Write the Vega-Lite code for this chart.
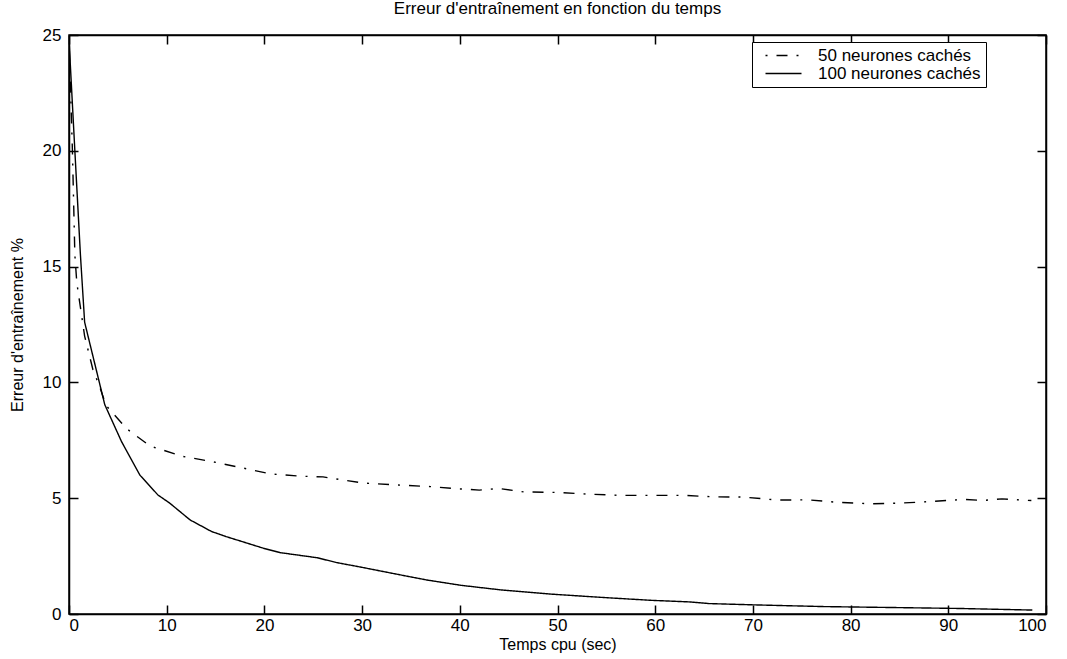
{
  "$schema": "https://vega.github.io/schema/vega-lite/v6.json",
  "width": 977,
  "height": 579,
  "autosize": {"type": "none"},
  "padding": {"left": 69, "top": 35, "right": 21, "bottom": 45},
  "background": "white",
  "title": {"text": "Erreur d'entraînement en fonction du temps", "font": "Liberation Sans", "fontSize": 17, "fontWeight": "normal", "color": "black", "anchor": "middle", "offset": 8},
  "config": {
    "view": {"stroke": "black", "strokeWidth": 1.5},
    "axis": {"domainColor": "black", "domainWidth": 1.5, "tickColor": "black", "tickWidth": 1.5, "grid": false, "labelFont": "Liberation Sans", "labelFontSize": 17, "labelColor": "black", "titleFont": "Liberation Sans", "titleFontSize": 16, "titleFontWeight": "normal", "titleColor": "black"}
  },
  "data": {"values": [
    {"series": "50 neurones cachés", "t": 0, "err": 24.8},
    {"series": "50 neurones cachés", "t": 0.35, "err": 20.0},
    {"series": "50 neurones cachés", "t": 0.6, "err": 15.5},
    {"series": "50 neurones cachés", "t": 0.8, "err": 14.3},
    {"series": "50 neurones cachés", "t": 1.6, "err": 12.0},
    {"series": "50 neurones cachés", "t": 2.45, "err": 10.55},
    {"series": "50 neurones cachés", "t": 3.15, "err": 9.8},
    {"series": "50 neurones cachés", "t": 3.8, "err": 9.0},
    {"series": "50 neurones cachés", "t": 5.9, "err": 8.0},
    {"series": "50 neurones cachés", "t": 8.3, "err": 7.25},
    {"series": "50 neurones cachés", "t": 11.7, "err": 6.8},
    {"series": "50 neurones cachés", "t": 14.4, "err": 6.6},
    {"series": "50 neurones cachés", "t": 17.5, "err": 6.33},
    {"series": "50 neurones cachés", "t": 20.6, "err": 6.05},
    {"series": "50 neurones cachés", "t": 23.7, "err": 5.95},
    {"series": "50 neurones cachés", "t": 26.0, "err": 5.92},
    {"series": "50 neurones cachés", "t": 27.8, "err": 5.8},
    {"series": "50 neurones cachés", "t": 30.2, "err": 5.65},
    {"series": "50 neurones cachés", "t": 33.6, "err": 5.57},
    {"series": "50 neurones cachés", "t": 37.0, "err": 5.5},
    {"series": "50 neurones cachés", "t": 40.1, "err": 5.4},
    {"series": "50 neurones cachés", "t": 42.0, "err": 5.35},
    {"series": "50 neurones cachés", "t": 44.0, "err": 5.42},
    {"series": "50 neurones cachés", "t": 46.6, "err": 5.27},
    {"series": "50 neurones cachés", "t": 50.0, "err": 5.25},
    {"series": "50 neurones cachés", "t": 53.0, "err": 5.18},
    {"series": "50 neurones cachés", "t": 56.5, "err": 5.12},
    {"series": "50 neurones cachés", "t": 60.0, "err": 5.12},
    {"series": "50 neurones cachés", "t": 63.0, "err": 5.12},
    {"series": "50 neurones cachés", "t": 66.0, "err": 5.06},
    {"series": "50 neurones cachés", "t": 69.0, "err": 5.05},
    {"series": "50 neurones cachés", "t": 72.5, "err": 4.92},
    {"series": "50 neurones cachés", "t": 75.6, "err": 4.93},
    {"series": "50 neurones cachés", "t": 78.7, "err": 4.82},
    {"series": "50 neurones cachés", "t": 82.1, "err": 4.76},
    {"series": "50 neurones cachés", "t": 85.2, "err": 4.79},
    {"series": "50 neurones cachés", "t": 88.3, "err": 4.86},
    {"series": "50 neurones cachés", "t": 91.7, "err": 4.95},
    {"series": "50 neurones cachés", "t": 93.5, "err": 4.9},
    {"series": "50 neurones cachés", "t": 95.5, "err": 4.97},
    {"series": "50 neurones cachés", "t": 98.5, "err": 4.9},
    {"series": "100 neurones cachés", "t": 0, "err": 24.8},
    {"series": "100 neurones cachés", "t": 0.6, "err": 20.0},
    {"series": "100 neurones cachés", "t": 1.17, "err": 15.5},
    {"series": "100 neurones cachés", "t": 1.6, "err": 12.6},
    {"series": "100 neurones cachés", "t": 3.66, "err": 9.04},
    {"series": "100 neurones cachés", "t": 5.37, "err": 7.45},
    {"series": "100 neurones cachés", "t": 7.25, "err": 6.0},
    {"series": "100 neurones cachés", "t": 9.1, "err": 5.14},
    {"series": "100 neurones cachés", "t": 10.3, "err": 4.79},
    {"series": "100 neurones cachés", "t": 12.4, "err": 4.06},
    {"series": "100 neurones cachés", "t": 14.6, "err": 3.56},
    {"series": "100 neurones cachés", "t": 16.1, "err": 3.34},
    {"series": "100 neurones cachés", "t": 19.9, "err": 2.84},
    {"series": "100 neurones cachés", "t": 21.6, "err": 2.65},
    {"series": "100 neurones cachés", "t": 25.4, "err": 2.43},
    {"series": "100 neurones cachés", "t": 27.4, "err": 2.22},
    {"series": "100 neurones cachés", "t": 29.8, "err": 2.03},
    {"series": "100 neurones cachés", "t": 33.9, "err": 1.69},
    {"series": "100 neurones cachés", "t": 36.6, "err": 1.47},
    {"series": "100 neurones cachés", "t": 40.1, "err": 1.24},
    {"series": "100 neurones cachés", "t": 44.2, "err": 1.04},
    {"series": "100 neurones cachés", "t": 49.3, "err": 0.86},
    {"series": "100 neurones cachés", "t": 54.4, "err": 0.72},
    {"series": "100 neurones cachés", "t": 59.6, "err": 0.59},
    {"series": "100 neurones cachés", "t": 63.6, "err": 0.52},
    {"series": "100 neurones cachés", "t": 65.5, "err": 0.45},
    {"series": "100 neurones cachés", "t": 70.5, "err": 0.39},
    {"series": "100 neurones cachés", "t": 77.3, "err": 0.32},
    {"series": "100 neurones cachés", "t": 84.2, "err": 0.28},
    {"series": "100 neurones cachés", "t": 91.0, "err": 0.24},
    {"series": "100 neurones cachés", "t": 98.6, "err": 0.17}
  ]},
  "layer": [
    {
      "mark": {"type": "line", "color": "black", "strokeWidth": 1.4, "clip": true},
      "encoding": {
        "x": {"field": "t", "type": "quantitative", "scale": {"domain": [0, 100], "nice": false, "zero": false},
          "axis": {"orient": "bottom", "values": [0, 10, 20, 30, 40, 50, 60, 70, 80, 90, 100], "title": "Temps cpu (sec)", "tickSize": -9, "labelPadding": 12, "titlePadding": 3}},
        "y": {"field": "err", "type": "quantitative", "scale": {"domain": [0, 25], "nice": false},
          "axis": {"orient": "left", "values": [0, 5, 10, 15, 20, 25], "title": "Erreur d'entraînement %", "tickSize": -9, "labelPadding": 17, "titleX": -44, "titleY": 289.5}},
        "strokeDash": {"field": "series", "type": "nominal",
          "scale": {"domain": ["50 neurones cachés", "100 neurones cachés"], "range": [[2, 9, 11, 9], [1, 0]]},
          "legend": {"orient": "none", "legendX": 683, "legendY": 7, "title": null, "strokeColor": "black", "fillColor": "white", "padding": 5, "labelFont": "Liberation Sans", "labelFontSize": 17, "labelLimit": 400, "labelColor": "black", "symbolType": "M0,0H6", "symbolStrokeColor": "black", "symbolFillColor": "transparent", "symbolStrokeWidth": 1.3, "symbolSize": 144, "rowPadding": 0, "labelOffset": 44}}
      }
    },
    {
      "mark": {"type": "line", "opacity": 0},
      "encoding": {
        "x": {"field": "t", "type": "quantitative", "scale": {"domain": [0, 100], "nice": false, "zero": false},
          "axis": {"orient": "top", "values": [0, 10, 20, 30, 40, 50, 60, 70, 80, 90, 100], "title": null, "labels": false, "tickSize": -9}},
        "y": {"field": "err", "type": "quantitative", "scale": {"domain": [0, 25], "nice": false},
          "axis": {"orient": "right", "values": [0, 5, 10, 15, 20, 25], "title": null, "labels": false, "tickSize": -9}},
        "detail": {"field": "series", "type": "nominal"}
      }
    }
  ],
  "resolve": {"scale": {"x": "independent", "y": "independent"}, "axis": {"x": "independent", "y": "independent"}}
}
